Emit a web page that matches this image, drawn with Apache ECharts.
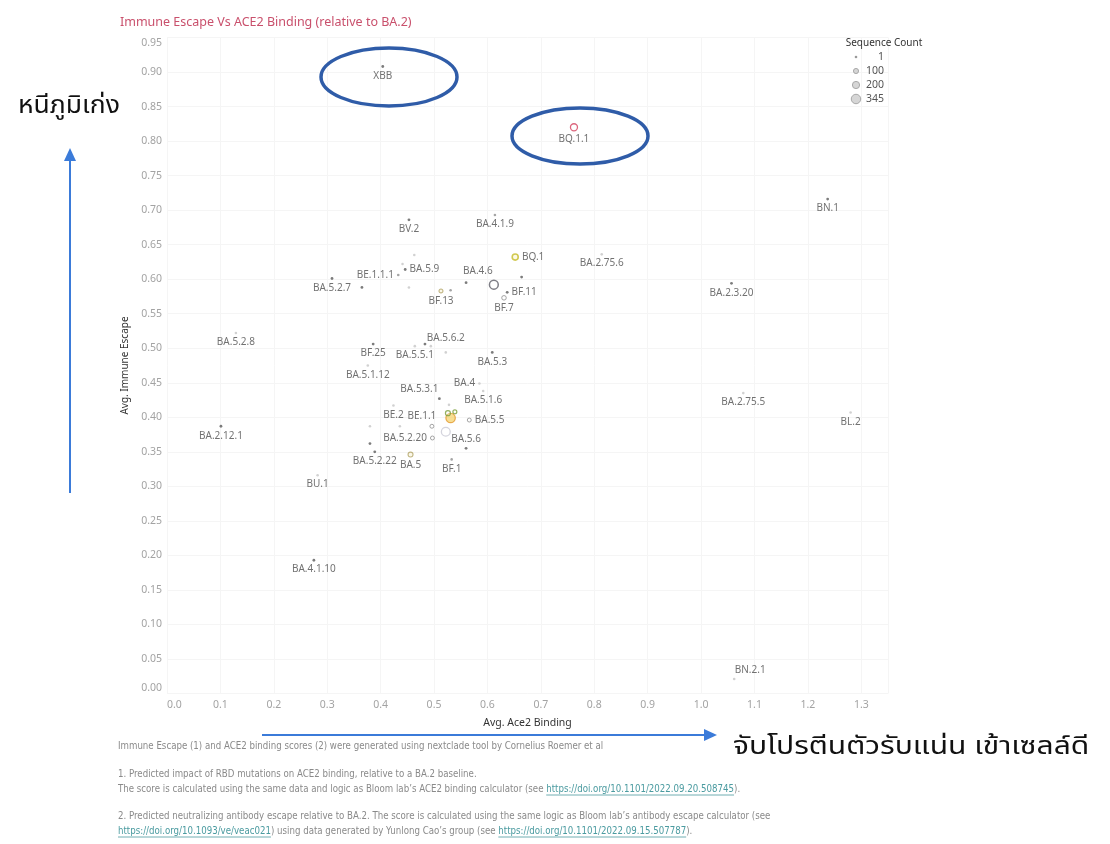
<!DOCTYPE html>
<html>
<head>
<meta charset="utf-8">
<script src="https://cdn.jsdelivr.net/npm/echarts@6/dist/echarts.min.js"></script>
<style>
html,body{margin:0;padding:0;background:#fff;}
#chart{width:1110px;height:844px;}
</style>
</head>
<body>
<div id="chart"></div>
<script>
// ---------------- data ----------------
const variantNames = [
  'BA.4.6','', 'BA.5', '', '', '',
  'XBB','BQ.1.1','BN.1','BV.2','BA.4.1.9','BQ.1','BA.2.75.6','BE.1.1.1','BA.5.9',
  'BA.5.2.7','BF.11','BF.7','BF.13','BA.2.3.20','BA.5.2.8','BA.5.6.2','BF.25','BA.5.5.1',
  'BA.5.3','BA.5.1.12','BA.4','BA.5.3.1','BA.5.1.6','BE.2','BE.1.1','BA.5.5','BA.2.75.5',
  'BL.2','BA.2.12.1','BA.5.2.20','BA.5.6','BA.5.2.22','BF.1','BU.1','BA.4.1.10','BN.2.1',
  '','','','','','','','','','','','',''
];
const ace2Binding = [
  0.612, 0.522, 0.456, 0.531, 0.526, 0.539,
  0.404, 0.762, 1.237, 0.453, 0.614, 0.652, 0.814, 0.433, 0.446,
  0.309, 0.637, 0.631, 0.513, 1.057, 0.129, 0.522, 0.386, 0.464,
  0.609, 0.376, 0.585, 0.510, 0.592, 0.424, 0.496, 0.566, 1.079,
  1.280, 0.101, 0.497, 0.560, 0.389, 0.533, 0.282, 0.275, 1.062,
  0.664, 0.560, 0.463, 0.441, 0.453, 0.365, 0.531, 0.483, 0.494, 0.528, 0.380, 0.436, 0.380, 0.555, 0.507
];
const immuneEscape = [
  0.592, 0.379, 0.346, 0.399, 0.406, 0.408,
  0.908, 0.820, 0.716, 0.686, 0.693, 0.632, 0.636, 0.606, 0.614,
  0.601, 0.581, 0.573, 0.583, 0.594, 0.522, 0.494, 0.506, 0.503,
  0.494, 0.475, 0.449, 0.427, 0.438, 0.417, 0.387, 0.396, 0.435,
  0.407, 0.387, 0.370, 0.355, 0.350, 0.339, 0.316, 0.193, 0.021,
  0.603, 0.595, 0.635, 0.622, 0.588, 0.588, 0.584, 0.506, 0.503, 0.418, 0.387, 0.387, 0.362, 0.389, 0.390
];
const sequenceCount = [
  300, 300, 95, 345, 95, 60,
  30, 190, 30, 30, 10, 140, 1, 10, 30,
  30, 30, 80, 60, 30, 1, 1, 30, 5,
  30, 1, 5, 30, 5, 1, 60, 60, 1,
  1, 30, 60, 30, 30, 10, 1, 30, 1,
  30, 30, 1, 1, 1, 30, 10, 30, 5, 1, 1, 1, 30, 60, 60
];
const colourGroup = [
  'ringDark','pale','olive','orange','green','green',
  'dark','red','dark','dark','mid','yellow','light','mid','dark',
  'dark','dark','ring','olive','dark','light','light','dark','light',
  'dark','light','light','dark','light','light','ring','ring','light',
  'light','dark','ring','dark','dark','mid','light','dark','light',
  'dark','dark','light','light','light','dark','mid','dark','light','light','light','light','dark','ring','ring'
];
const labelSide = {
  'BQ.1':'right','BE.1.1.1':'left','BA.5.9':'right','BF.11':'right','BA.4.6':'top',
  'BA.5.6.2':'top','BA.4':'left','BA.5.3.1':'top','BE.1.1':'top','BA.5.5':'right',
  'BA.5.2.20':'left','BA.5.6':'top','BN.2.1':'top'
};
const labelNudge = {
  'BA.4.6':[-16,0], 'BA.5.3.1':[-20,0], 'BE.1.1':[-10,0], 'BA.5.6.2':[0,-5], 'BN.2.1':[16,0]
};
const legendCounts = [1, 100, 200, 345];
const xTickStep = 0.1;
const yTickStep = 0.05;

// ---------------- styles ----------------
const groupStyle = {
  dark:{color:'#5b5b5b'},
  mid:{color:'#8e8e8e'},
  light:{color:'#c6c6c6'},
  ring:{color:'rgba(255,255,255,0.35)',borderColor:'#8e8e8e',borderWidth:1},
  ringDark:{color:'rgba(255,255,255,0.35)',borderColor:'#5e5e68',borderWidth:1.5},
  red:{color:'rgba(255,255,255,0.5)',borderColor:'#d3405c',borderWidth:1.3},
  yellow:{color:'rgba(250,245,200,0.6)',borderColor:'#c6bb28',borderWidth:1.6},
  olive:{color:'rgba(245,238,200,0.5)',borderColor:'#b1a468',borderWidth:1.1},
  orange:{color:'rgba(244,206,96,0.85)',borderColor:'#e49a30',borderWidth:1.2},
  green:{color:'rgba(255,255,255,0.3)',borderColor:'#7b9e3a',borderWidth:1.2},
  pale:{color:'rgba(255,255,255,0.3)',borderColor:'#c9c9d4',borderWidth:1.3}
};
function sizeOf(c){ return Math.max(2.6, 0.51*Math.sqrt(c)); }

const LABEL_FONT = '"Noto Sans", "DejaVu Sans", sans-serif';
const NOTE_FONT_FAMILY = '"Liberation Sans Narrow", "DejaVu Sans Condensed", "Roboto Condensed", sans-serif';
const THAI_FONT = '"Noto Sans Thai", "Noto Sans Thai UI", "Loma", "Garuda", "Tlwg Typo", "Noto Sans", sans-serif';

const points = variantNames.map((n,i)=>{
  const o = {
    value:[ace2Binding[i], immuneEscape[i], sequenceCount[i]],
    name:n,
    itemStyle:groupStyle[colourGroup[i]]
  };
  if(n){
    o.label = {show:true, position: labelSide[n] || 'bottom', distance: 3};
  }
  return o;
});

// -------- footnotes (measured for link underlines) --------
const measureCtx = document.createElement('canvas').getContext('2d');
const NOTE_SIZE = 10.5;
const NOTE_SCALE = 0.915;
const noteFont = NOTE_SIZE + 'px ' + NOTE_FONT_FAMILY;
function textW(t){ measureCtx.font = noteFont; return measureCtx.measureText(t).width * NOTE_SCALE; }
const noteLines = [
  {y:746, segs:[['Immune Escape (1) and ACE2 binding scores (2) were generated using nextclade tool by Cornelius Roemer et al',0]]},
  {y:774, segs:[['1. Predicted impact of RBD mutations on ACE2 binding, relative to a BA.2 baseline.',0]]},
  {y:789, segs:[['The score is calculated using the same data and logic as Bloom lab\u2019s ACE2 binding calculator (see ',0],['https://doi.org/10.1101/2022.09.20.508745',1],[').',0]]},
  {y:816, segs:[['2. Predicted neutralizing antibody escape relative to BA.2. The score is calculated using the same logic as Bloom lab\u2019s antibody escape calculator (see',0]]},
  {y:831, segs:[['https://doi.org/10.1093/ve/veac021',1],[') using data generated by Yunlong Cao\u2019s group (see ',0],['https://doi.org/10.1101/2022.09.15.507787',1],[').',0]]}
];
const noteGraphics = [];
noteLines.forEach(line=>{
  let x = 118;
  line.segs.forEach(([t,link])=>{
    const w = textW(t);
    noteGraphics.push({type:'text', x:x, y:line.y, scaleX:NOTE_SCALE, silent:true,
      style:{text:t, x:0, y:0, verticalAlign:'middle', font:noteFont, fill: link ? '#4b9ba0' : '#8a8a8a'}});
    if(link){
      noteGraphics.push({type:'line', silent:true,
        shape:{x1:x, y1:line.y+6, x2:x+w, y2:line.y+6},
        style:{stroke:'#4b9ba0', lineWidth:0.8}});
    }
    x += w;
  });
});

// -------- legend graphics --------
const legendGraphics = [{type:'text', z:50, style:{text:'Sequence Count', x:884, y:43, align:'center', verticalAlign:'middle', font:'10px '+LABEL_FONT, fill:'#333'}}];
legendCounts.forEach((c,i)=>{
  const cy = 57 + i*14;
  legendGraphics.push({type:'circle', z:50, shape:{cx:856, cy:cy, r:sizeOf(c)/2},
    style:{fill: c>1 ? '#d6d6d6' : '#9a9a9a', stroke: c>1 ? '#a8a8a8' : null, lineWidth:1}});
  legendGraphics.push({type:'text', z:50, style:{text:String(c), x:884, y:cy, align:'right', verticalAlign:'middle', font:'10.5px '+LABEL_FONT, fill:'#555'}});
});

// -------- annotation overlays --------
const annColor = '#2f5ca8';
const arrowColor = '#3b7bd9';
const annotations = [
  {type:'ellipse', shape:{cx:389, cy:77, rx:68, ry:29}, style:{fill:null, stroke:annColor, lineWidth:3.5}, z:100},
  {type:'ellipse', shape:{cx:580, cy:136, rx:68, ry:28}, style:{fill:null, stroke:annColor, lineWidth:3.5}, z:100},
  {type:'line', shape:{x1:70, y1:493, x2:70, y2:160}, style:{stroke:arrowColor, lineWidth:2}, z:100},
  {type:'polygon', shape:{points:[[70,148],[64,161],[76,161]]}, style:{fill:arrowColor}, z:100},
  {type:'line', shape:{x1:262, y1:735, x2:704, y2:735}, style:{stroke:arrowColor, lineWidth:2}, z:100},
  {type:'polygon', shape:{points:[[717,735],[704,729],[704,741]]}, style:{fill:arrowColor}, z:100},
  {type:'text', x:18, y:108, scaleX:1.06, style:{text:'หนีภูมิเก่ง', x:0, y:0, verticalAlign:'middle', font:'25px '+THAI_FONT, fill:'#111'}, z:100},
  {type:'text', x:733, y:749, scaleX:1.2, style:{text:'จับโปรตีนตัวรับแน่น เข้าเซลล์ดี', x:0, y:0, verticalAlign:'middle', font:'25px '+THAI_FONT, fill:'#111'}, z:100}
];

const chart = echarts.init(document.getElementById('chart'), null, {renderer:'canvas'});
chart.setOption({
  animation:false,
  backgroundColor:'#fff',
  title:{
    text:'Immune Escape Vs ACE2 Binding (relative to BA.2)',
    left:115, top:11,
    textStyle:{fontSize:12.5, fontWeight:'normal', color:'#c9506c', fontFamily:LABEL_FONT}
  },
  grid:{left:167, right:222, top:37.5, bottom:150.5, containLabel:false},
  xAxis:{
    type:'value', min:0, max:1.35, interval:xTickStep,
    name:'Avg. Ace2 Binding', nameLocation:'middle', nameGap:24,
    nameTextStyle:{fontSize:10.5, color:'#333', fontFamily:LABEL_FONT},
    axisLine:{show:false}, axisTick:{show:false},
    axisLabel:{show:true, showMaxLabel:false, alignMinLabel:'left', margin:6, fontSize:10.5, color:'#a3a3a3', fontFamily:LABEL_FONT,
      formatter:v=>v.toFixed(1)},
    splitLine:{show:true, lineStyle:{color:'#f5f5f5', width:1}}
  },
  yAxis:{
    type:'value', min:0, max:0.95, interval:yTickStep,
    name:'Avg. Immune Escape', nameLocation:'middle', nameGap:26, nameRotate:90,
    nameTextStyle:{fontSize:10, color:'#333', fontFamily:LABEL_FONT},
    axisLine:{show:false}, axisTick:{show:false},
    axisLabel:{show:true, margin:5, fontSize:10.5, color:'#a3a3a3', fontFamily:LABEL_FONT,
      verticalAlignMinLabel:'bottom', verticalAlignMaxLabel:'top',
      formatter:v=>v.toFixed(2)},
    splitLine:{show:true, lineStyle:{color:'#f5f5f5', width:1}}
  },
  series:[{
    type:'scatter',
    data:points,
    symbolSize:function(v){ return sizeOf(v[2]); },
    label:{show:false, formatter:p=>p.name, fontSize:10, color:'#4e4e4e', fontFamily:LABEL_FONT},
    labelLayout:function(params){
      const n = variantNames[params.dataIndex];
      const d = labelNudge[n];
      return d ? {dx:d[0], dy:d[1], hideOverlap:false} : {hideOverlap:false};
    },
    emphasis:{disabled:true}
  }],
  graphic:[].concat(legendGraphics, noteGraphics, annotations)
});
</script>
</body>
</html>
